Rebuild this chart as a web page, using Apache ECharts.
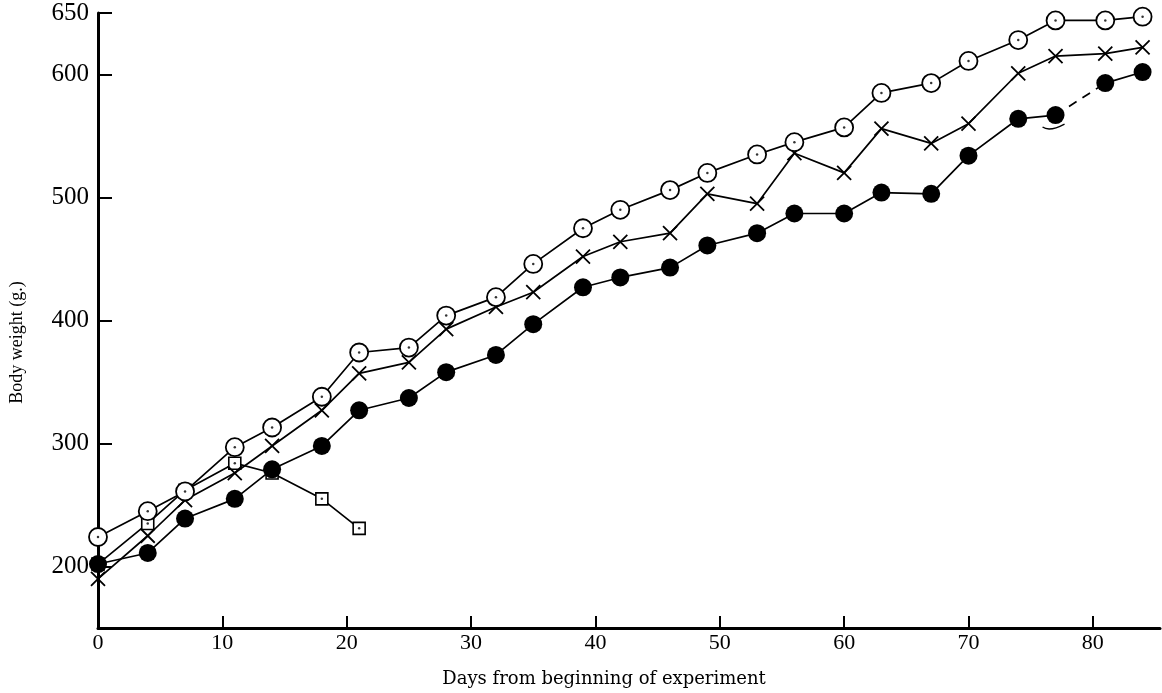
<!DOCTYPE html>
<html><head><meta charset="utf-8">
<script src="https://cdn.jsdelivr.net/npm/echarts@6/dist/echarts.min.js"></script>
<style>html,body{margin:0;padding:0;background:#fff}#c{width:1162px;height:693px}</style>
</head><body><div id="c"></div>
<script>
// Days of weighing (shared by the three long series)
const days = [0,4,7,11,14,18,21,25,28,32,35,39,42,46,49,53,56,60,63,67,70,74,77,81,84];
// Open circle with dot
const weightOpenCircle = [224,245,261,297,313,338,374,378,404,419,446,475,490,506,520,535,545,557,585,593,611,628,644,644,647];
// Cross
const weightCross = [190,225,254,276,298,327,357,366,393,411,423,452,464,471,503,495,536,520,556,544,560,601,615,617,622];
// Filled circle
const weightFilled = [202,211,239,255,279,298,327,337,358,372,397,427,435,443,461,471,487,487,504,503,534,564,567,593,602];
// Open square with dot
const daysSquare = [0,4,7,11,14,18,21];
const weightSquare = [202,235,262,284,276,255,231];
// Axis tick labels
const xTicks = [0,10,20,30,40,50,60,70,80];
const yTicks = [200,300,400,500,600,650];
const xTitle = 'Days from beginning of experiment';
const yTitle = 'Body weight (g.)';

const zip = (a, b) => a.map((v, i) => [v, b[i]]);
const open = zip(days, weightOpenCircle);
const cross = zip(days, weightCross);
const filled = zip(days, weightFilled);
const square = zip(daysSquare, weightSquare);
const dashFrom = days.indexOf(77);

const FONT = 'Liberation Serif';
const LW = 1.7;
const chart = echarts.init(document.getElementById('c'));
chart.setOption({
  backgroundColor: '#fff',
  animation: false,
  grid: {left: 98, right: 2, top: 13, bottom: 65, outerBoundsMode: 'none', containLabel: false},
  xAxis: {
    type: 'value', min: 0, max: 85.4,
    name: xTitle, nameLocation: 'middle', nameGap: 42,
    nameTextStyle: {fontFamily: 'DejaVu Serif', fontSize: 18, color: '#000', padding: [0, 50, 0, 0]},
    axisLine: {lineStyle: {color: '#000', width: 3}},
    axisTick: {inside: true, length: 12, lineStyle: {color: '#000', width: 2}, customValues: xTicks},
    axisLabel: {customValues: xTicks, fontFamily: FONT, fontSize: 22, color: '#000', margin: 4},
    splitLine: {show: false}
  },
  yAxis: {
    type: 'value', min: 150, max: 650,
    name: yTitle, nameLocation: 'middle', nameGap: 72, nameRotate: 90,
    nameTextStyle: {fontFamily: FONT, fontSize: 18, color: '#000', padding: [0, 44, 0, 0]},
    axisLine: {lineStyle: {color: '#000', width: 3}},
    axisTick: {inside: true, length: 14, lineStyle: {color: '#000', width: 2}, customValues: yTicks},
    axisLabel: {customValues: yTicks, fontFamily: FONT, fontSize: 25, color: '#000', margin: 9},
    splitLine: {show: false}
  },
  series: [
    {type: 'line', data: square, symbol: 'rect', symbolSize: 12, z: 3,
      lineStyle: {color: '#000', width: LW}, itemStyle: {color: '#fff', borderColor: '#000', borderWidth: 1.6}},
    {type: 'scatter', data: square, symbol: 'circle', symbolSize: 2.5, z: 4, itemStyle: {color: '#000'}},
    {type: 'line', data: filled.slice(0, dashFrom + 1), symbol: 'circle', symbolSize: 18, z: 5,
      lineStyle: {color: '#000', width: LW}, itemStyle: {color: '#000'}},
    {type: 'line', data: filled.slice(dashFrom, dashFrom + 2), showSymbol: false, z: 5,
      lineStyle: {color: '#000', width: LW, type: [9, 7]}},
    {type: 'line', data: filled.slice(dashFrom + 1), symbol: 'circle', symbolSize: 18, z: 5,
      lineStyle: {color: '#000', width: LW}, itemStyle: {color: '#000'}},
    {type: 'line', data: cross, symbol: 'path://M0,0L10,10M10,0L0,10', symbolSize: 14, z: 6,
      lineStyle: {color: '#000', width: LW}, itemStyle: {color: 'none', borderColor: '#000', borderWidth: 1.8}},
    {type: 'line', data: open, symbol: 'circle', symbolSize: 18, z: 7,
      lineStyle: {color: '#000', width: LW}, itemStyle: {color: '#fff', borderColor: '#000', borderWidth: 1.8}},
    {type: 'scatter', data: open, symbol: 'circle', symbolSize: 2.5, z: 8, itemStyle: {color: '#000'}}
  ]
});
// small hand-drawn stroke under the day-77 filled point
const p = chart.convertToPixel({gridIndex: 0}, filled[dashFrom]);
chart.setOption({graphic: [{
  type: 'bezierCurve', z: 10,
  shape: {x1: p[0] - 13, y1: p[1] + 12, x2: p[0] + 9, y2: p[1] + 9, cpx1: p[0] - 6, cpy1: p[1] + 17},
  style: {stroke: '#000', lineWidth: 1.3, fill: 'none'}
}]});
</script></body></html>
